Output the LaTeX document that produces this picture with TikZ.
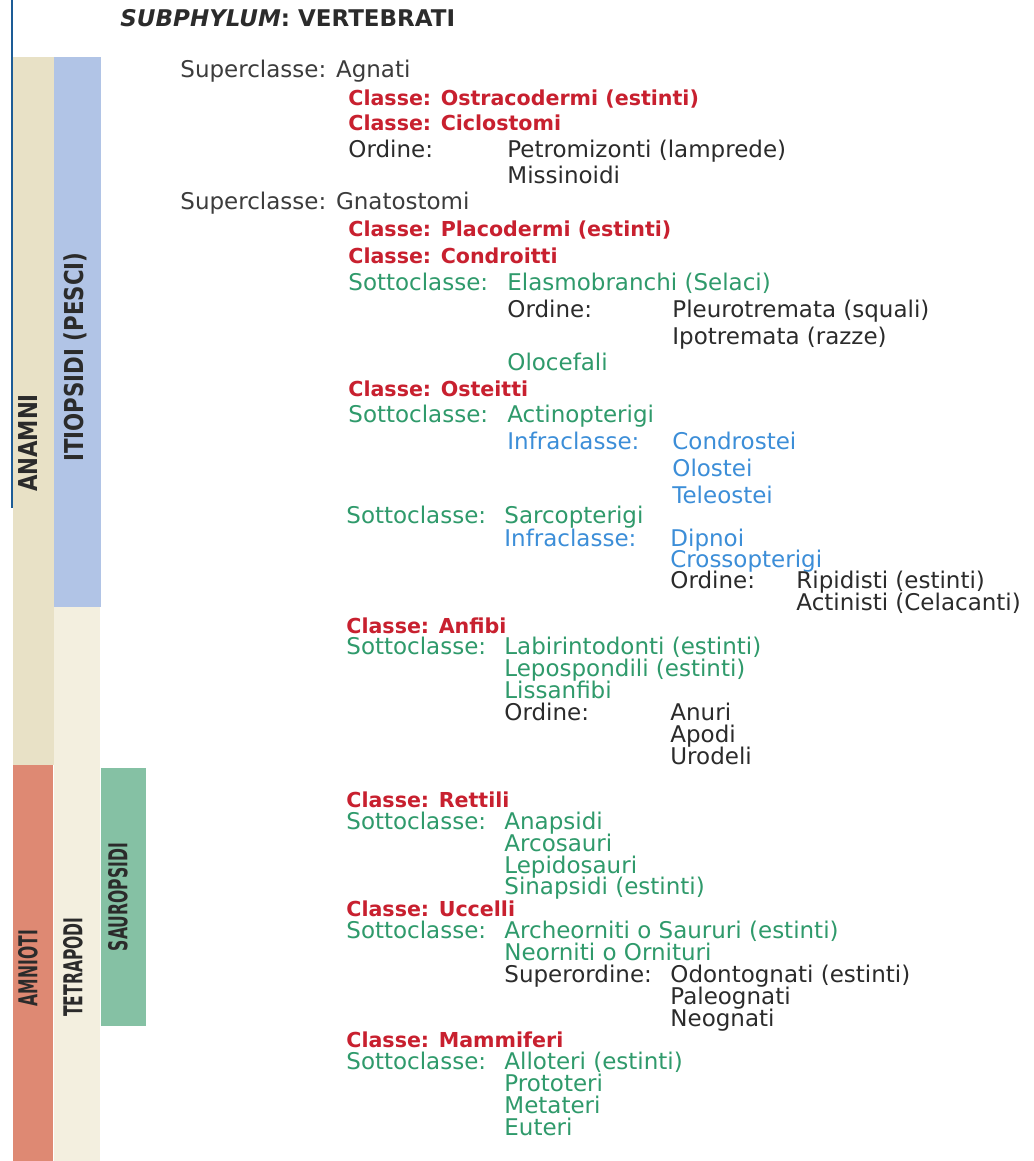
\documentclass[tikz,border=0pt]{standalone}
\usepackage{fontspec}
\setmainfont{DejaVu Sans}
\newfontfamily\barfont[FakeStretch=0.6]{DejaVu Sans}
\newfontfamily\barfontwide[FakeStretch=0.82]{DejaVu Sans}
\usepackage{xcolor}
\usepackage{tikz}
\usetikzlibrary{positioning}
\definecolor{ink}{HTML}{2B2B2B}
\definecolor{graytext}{HTML}{3C3C3C}
\definecolor{classred}{HTML}{C8202F}
\definecolor{subgreen}{HTML}{2F9A6B}
\definecolor{infrablue}{HTML}{3C8ED8}
\definecolor{anamnibg}{HTML}{E8E1C6}
\definecolor{pescibg}{HTML}{B1C4E6}
\definecolor{amniotibg}{HTML}{DE8973}
\definecolor{tetrabg}{HTML}{F3EFDF}
\definecolor{saurobg}{HTML}{85C1A4}
\definecolor{edgeblue}{HTML}{1D5C96}
\tikzset{
  taxon chart/.style={
    x=0.5pt,
    y=-0.5pt,
    font=\fontsize{11.5}{13}\selectfont
  },
  rankline/.style={
    anchor=base west,
    inner sep=0pt,
    text=ink
  },
  titleline/.style={rankline, font=\fontsize{11.5}{13}\selectfont\bfseries, text=ink},
  supline/.style={rankline, text=graytext},
  classline/.style={rankline, text=classred, font=\fontsize{10.3}{12}\selectfont\bfseries},
  subline/.style={rankline, text=subgreen},
  infraline/.style={rankline, text=infrablue},
  ordline/.style={rankline, text=ink},
  barlabel/.style={
    rotate=90,
    inner sep=0pt,
    text=ink,
    font=\barfont\bfseries\fontsize{13}{15}\selectfont
  },
  widebarlabel/.style={barlabel, font=\barfontwide\bfseries\fontsize{13}{15}\selectfont}
}
\begin{document}
\begin{tikzpicture}[taxon chart]
\fill[white] (0,0) rectangle (1033,1161);
\useasboundingbox (0,0) rectangle (1033,1161);
\fill[anamnibg] (13,57) rectangle (54,765);
\fill[pescibg] (54,57) rectangle (101,607);
\fill[amniotibg] (13,765) rectangle (53,1161);
\fill[tetrabg] (54,607) rectangle (100,1161);
\fill[saurobg] (101,768) rectangle (146,1026);
\draw[edgeblue, line width=1pt] (12,0) -- (12,508);
\node[widebarlabel] (anamni) at (28,443) {ANAMNI};
\node[widebarlabel] (pesci) at (75,357) {ITIOPSIDI (PESCI)};
\node[barlabel] (amnioti) at (28,968) {AMNIOTI};
\node[barlabel] (tetrapodi) at (73,967) {TETRAPODI};
\node[barlabel] (sauropsidi) at (118,897) {SAUROPSIDI};
\node[titleline] (title) at (120,27) {\textit{SUBPHYLUM}: VERTEBRATI};
\node[supline] (agnati) at (180,78) {Superclasse: Agnati};
\node[classline] (ostracodermi) at (348,105) {Classe: Ostracodermi (estinti)};
\node[classline] (ciclostomi) at (348,131) {Classe: Ciclostomi};
\node[ordline] (ordCiclo) at (348,157) {Ordine:};
\node[ordline] (petromizonti) at (507,157) {Petromizonti (lamprede)};
\node[ordline] (missinoidi) at (507,183) {Missinoidi};
\node[supline] (gnatostomi) at (180,209) {Superclasse: Gnatostomi};
\node[classline] (placodermi) at (348,236) {Classe: Placodermi (estinti)};
\node[classline] (condroitti) at (348,263) {Classe: Condroitti};
\node[subline] (sotElasmo) at (348,290) {Sottoclasse:};
\node[subline] (elasmobranchi) at (507,290) {Elasmobranchi (Selaci)};
\node[ordline] (ordElasmo) at (507,317) {Ordine:};
\node[ordline] (pleurotremata) at (672,317) {Pleurotremata (squali)};
\node[ordline] (ipotremata) at (672,344) {Ipotremata (razze)};
\node[subline] (olocefali) at (507,370) {Olocefali};
\node[classline] (osteitti) at (348,396) {Classe: Osteitti};
\node[subline] (sotActino) at (348,422) {Sottoclasse:};
\node[subline] (actinopterigi) at (507,422) {Actinopterigi};
\node[infraline] (infActino) at (507,449) {Infraclasse:};
\node[infraline] (condrostei) at (672,449) {Condrostei};
\node[infraline] (olostei) at (672,476) {Olostei};
\node[infraline] (teleostei) at (672,503) {Teleostei};
\node[subline] (sotSarco) at (346,523) {Sottoclasse:};
\node[subline] (sarcopterigi) at (504,523) {Sarcopterigi};
\node[infraline] (infSarco) at (504,546) {Infraclasse:};
\node[infraline] (dipnoi) at (670,546) {Dipnoi};
\node[infraline] (crossopterigi) at (670,567) {Crossopterigi};
\node[ordline] (ordCrosso) at (670,588) {Ordine:};
\node[ordline] (ripidisti) at (796,588) {Ripidisti (estinti)};
\node[ordline] (actinisti) at (796,610) {Actinisti (Celacanti)};
\node[classline] (anfibi) at (346,633) {Classe: Anfibi};
\node[subline] (sotAnfibi) at (346,654) {Sottoclasse:};
\node[subline] (labirintodonti) at (504,654) {Labirintodonti (estinti)};
\node[subline] (lepospondili) at (504,676) {Lepospondili (estinti)};
\node[subline] (lissanfibi) at (504,698) {Lissanfibi};
\node[ordline] (ordAnfibi) at (504,720) {Ordine:};
\node[ordline] (anuri) at (670,720) {Anuri};
\node[ordline] (apodi) at (670,742) {Apodi};
\node[ordline] (urodeli) at (670,764) {Urodeli};
\node[classline] (rettili) at (346,807) {Classe: Rettili};
\node[subline] (sotRettili) at (346,829) {Sottoclasse:};
\node[subline] (anapsidi) at (504,829) {Anapsidi};
\node[subline] (arcosauri) at (504,851) {Arcosauri};
\node[subline] (lepidosauri) at (504,873) {Lepidosauri};
\node[subline] (sinapsidi) at (504,894) {Sinapsidi (estinti)};
\node[classline] (uccelli) at (346,916) {Classe: Uccelli};
\node[subline] (sotUccelli) at (346,938) {Sottoclasse:};
\node[subline] (archeorniti) at (504,938) {Archeorniti o Saururi (estinti)};
\node[subline] (neorniti) at (504,960) {Neorniti o Ornituri};
\node[ordline] (supUccelli) at (504,982) {Superordine:};
\node[ordline] (odontognati) at (670,982) {Odontognati (estinti)};
\node[ordline] (paleognati) at (670,1004) {Paleognati};
\node[ordline] (neognati) at (670,1026) {Neognati};
\node[classline] (mammiferi) at (346,1047) {Classe: Mammiferi};
\node[subline] (sotMammiferi) at (346,1069) {Sottoclasse:};
\node[subline] (alloteri) at (504,1069) {Alloteri (estinti)};
\node[subline] (prototeri) at (504,1091) {Prototeri};
\node[subline] (metateri) at (504,1113) {Metateri};
\node[subline] (euteri) at (504,1135) {Euteri};
\end{tikzpicture}
\end{document}
